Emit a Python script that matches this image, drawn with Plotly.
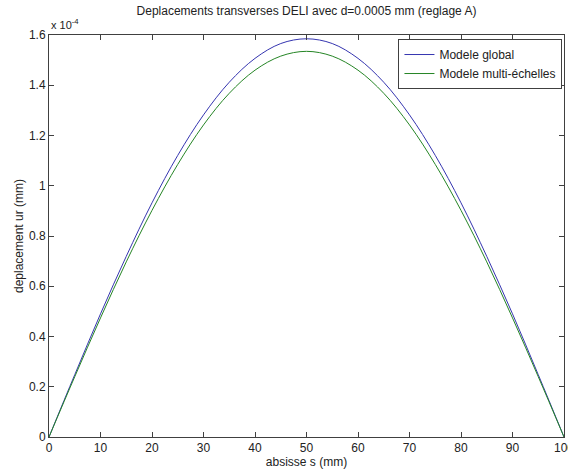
import plotly.graph_objects as go

# abscissa s (mm)
s_mm = [0, 5, 10, 15, 20, 25, 30, 35, 40, 45, 50, 55, 60, 65, 70, 75, 80, 85, 90, 95, 100]
# displacement ur, in units of 1e-4 mm
ur_global = [0, 0.248, 0.490, 0.719, 0.932, 1.121, 1.282, 1.412, 1.507, 1.566, 1.585,
             1.566, 1.507, 1.412, 1.282, 1.121, 0.932, 0.719, 0.490, 0.248, 0]
ur_multi = [0, 0.240, 0.474, 0.697, 0.902, 1.085, 1.242, 1.368, 1.460, 1.516, 1.535,
            1.516, 1.460, 1.368, 1.242, 1.085, 0.902, 0.697, 0.474, 0.240, 0]
scale = 1e-4
x_ticks = [0, 10, 20, 30, 40, 50, 60, 70, 80, 90, 100]
y_tick_labels = ["0", "0.2", "0.4", "0.6", "0.8", "1", "1.2", "1.4", "1.6"]
y_tick_vals = [float(t) * scale for t in y_tick_labels]

font_family = "Liberation Sans, Arial, sans-serif"
fs = 12

fig = go.Figure()
fig.add_trace(go.Scatter(x=s_mm, y=[v * scale for v in ur_global], mode="lines",
                         line=dict(color="#3535b0", width=1, shape="spline"),
                         name="Modele global"))
fig.add_trace(go.Scatter(x=s_mm, y=[v * scale for v in ur_multi], mode="lines",
                         line=dict(color="#258525", width=1, shape="spline"),
                         name="Modele multi-échelles"))

axis_common = dict(showline=True, linecolor="#404040", linewidth=1, mirror="ticks",
                   ticks="inside", ticklen=5, tickcolor="#404040", showgrid=False,
                   zeroline=False, automargin=False, ticklabeloverflow="allow",
                   tickfont=dict(size=fs, color="#222", family=font_family))

fig.update_xaxes(range=[0, 100], tickvals=x_ticks, title=dict(text="absisse s (mm)",
                 font=dict(size=fs, color="#222", family=font_family), standoff=0),
                 **axis_common)
fig.update_yaxes(range=[0, 1.6e-4], tickvals=y_tick_vals, ticktext=y_tick_labels,
                 title=dict(text="deplacement ur (mm)",
                            font=dict(size=fs, color="#222", family=font_family), standoff=2),
                 **axis_common)

fig.update_layout(
    width=568, height=469,
    margin=dict(l=49, r=4, t=35, b=32, autoexpand=False),
    paper_bgcolor="white", plot_bgcolor="white",
    font=dict(family=font_family, size=fs, color="#222"),
    title=dict(text="Deplacements transverses DELI avec d=0.0005 mm (reglage A)",
               xref="paper", x=0.5, xanchor="center", y=0.976, yanchor="middle",
               font=dict(size=fs, color="#222", family=font_family)),
    legend=dict(x=0.997, y=0.99, xanchor="right", yanchor="top",
                bordercolor="#404040", borderwidth=1, bgcolor="white",
                font=dict(size=fs, color="#222", family=font_family),
                tracegroupgap=0),
    showlegend=True,
    annotations=[dict(text="x 10<sup>-4</sup>", xref="paper", yref="paper",
                      x=0, y=1, xanchor="left", yanchor="bottom", showarrow=False,
                      yshift=2,
                      font=dict(size=11, color="#222", family=font_family))],
)

fig.write_html("out.html", config={"displayModeBar": False},
               post_script="document.body.style.margin='0';document.body.style.overflow='hidden';")
